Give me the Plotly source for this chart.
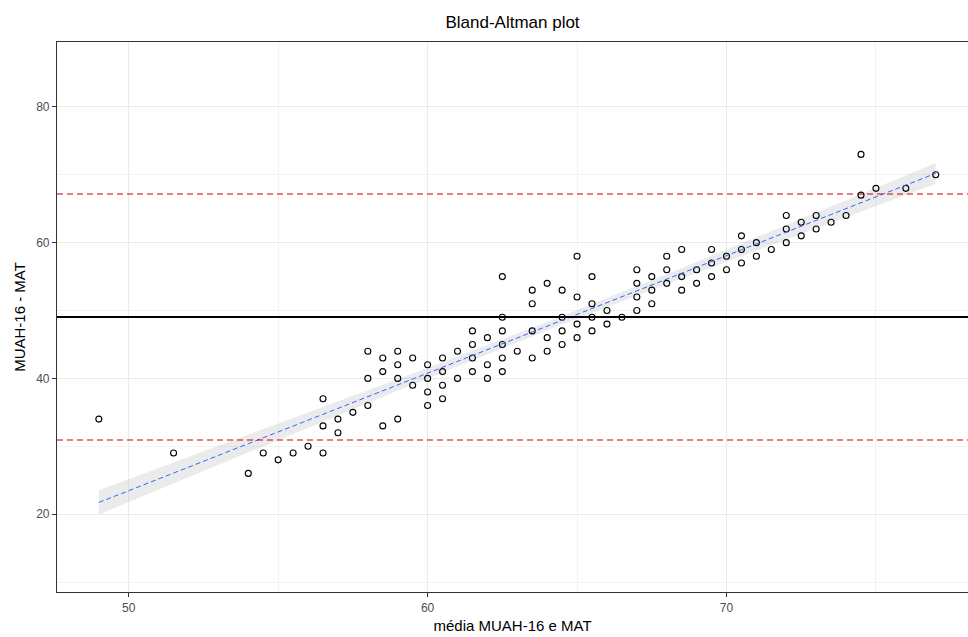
import numpy as np
import plotly.graph_objects as go

# Mean of the two methods (x) and the plotted value (y), one entry per subject
media = [
    49, 51.5, 54, 54.5, 55, 55.5, 56,
    56.5, 56.5, 56.5, 57, 57, 57.5,
    58, 58, 58, 58.5, 58.5, 58.5,
    59, 59, 59, 59, 59.5, 59.5,
    60, 60, 60, 60, 60.5, 60.5, 60.5, 60.5,
    61, 61, 61.5, 61.5, 61.5, 61.5, 62, 62, 62,
    62.5, 62.5, 62.5, 62.5, 62.5, 62.5, 63,
    63.5, 63.5, 63.5, 63.5, 64, 64, 64,
    64.5, 64.5, 64.5, 64.5, 65, 65, 65, 65,
    65.5, 65.5, 65.5, 65.5, 66, 66, 66.5,
    67, 67, 67, 67, 67.5, 67.5, 67.5, 68, 68, 68,
    68.5, 68.5, 68.5, 69, 69, 69.5, 69.5, 69.5,
    70, 70, 70.5, 70.5, 70.5, 71, 71, 71.5,
    72, 72, 72, 72.5, 72.5, 73, 73, 73.5, 74,
    74.5, 74.5, 75, 76, 77,
]
diferenca = [
    34, 29, 26, 29, 28, 29, 30,
    37, 33, 29, 34, 32, 35,
    44, 40, 36, 43, 41, 33,
    44, 42, 40, 34, 43, 39,
    42, 40, 38, 36, 43, 41, 39, 37,
    44, 40, 47, 45, 43, 41, 46, 42, 40,
    55, 49, 47, 45, 43, 41, 44,
    53, 51, 47, 43, 54, 46, 44,
    53, 49, 47, 45, 58, 52, 48, 46,
    55, 51, 49, 47, 50, 48, 49,
    56, 54, 52, 50, 55, 53, 51, 58, 56, 54,
    59, 55, 53, 56, 54, 59, 57, 55,
    58, 56, 61, 59, 57, 60, 58, 59,
    64, 62, 60, 63, 61, 64, 62, 63, 64,
    73, 67, 68, 68, 70,
]

# Bias and limits of agreement
vies = 49.05
limites = [30.93, 67.16]

x_ticks = [50, 60, 70]
y_ticks = [20, 40, 60, 80]

x = np.asarray(media, dtype=float)
y = np.asarray(diferenca, dtype=float)

# Linear fit with 95% confidence band
n = len(x)
b1, b0 = np.polyfit(x, y, 1)
resid = y - (b0 + b1 * x)
s = np.sqrt(np.sum(resid ** 2) / (n - 2))
sxx = np.sum((x - x.mean()) ** 2)
xg = np.linspace(x.min(), x.max(), 80)
yg = b0 + b1 * xg
se = s * np.sqrt(1.0 / n + (xg - x.mean()) ** 2 / sxx)
t = 1.982
lo = yg - t * se
hi = yg + t * se

fig = go.Figure()

fig.add_trace(go.Scatter(
    x=np.concatenate([xg, xg[::-1]]),
    y=np.concatenate([hi, lo[::-1]]),
    fill="toself", fillcolor="rgba(153,153,153,0.2)",
    line=dict(width=0), hoverinfo="skip", showlegend=False,
))

fig.add_trace(go.Scatter(
    x=media, y=diferenca, mode="markers",
    marker=dict(symbol="circle-open", size=6, color="black",
                line=dict(width=1.1, color="black")),
    showlegend=False,
))

fig.add_hline(y=vies, line=dict(color="black", width=2))
for v in limites:
    fig.add_hline(y=v, line=dict(color="#C80000", width=1.1, dash="6px,4px"))

fig.add_trace(go.Scatter(
    x=xg, y=yg, mode="lines",
    line=dict(color="#3366FF", width=1, dash="5px,3px"),
    showlegend=False,
))

font_family = "Liberation Sans, Arial, sans-serif"

fig.update_layout(
    width=968, height=637,
    margin=dict(l=57, r=0, t=42, b=45),
    paper_bgcolor="white", plot_bgcolor="white",
    font=dict(family=font_family, color="#000000"),
    title=dict(text="Bland-Altman plot", x=0.5, xanchor="center",
               y=0.965, yanchor="middle", xref="paper",
               font=dict(size=17, color="black", family=font_family)),
    showlegend=False,
)

fig.update_xaxes(
    range=[47.6, 78.08], tickvals=x_ticks,
    ticks="outside", ticklen=4, tickcolor="#333333", tickwidth=1,
    tickfont=dict(size=12, color="#4D4D4D"),
    showgrid=True, gridcolor="#EBEBEB", gridwidth=1,
    minor=dict(dtick=5, tick0=0, showgrid=True, gridcolor="#F2F2F2", gridwidth=0.6, ticks=""),
    showline=True, linecolor="#333333", linewidth=1.2, mirror=True,
    zeroline=False,
    title=dict(text="média MUAH-16 e MAT", font=dict(size=15, color="black"), standoff=6),
)
fig.update_yaxes(
    range=[8.53, 89.56], tickvals=y_ticks,
    ticks="outside", ticklen=4, tickcolor="#333333", tickwidth=1,
    tickfont=dict(size=12, color="#4D4D4D"),
    showgrid=True, gridcolor="#EBEBEB", gridwidth=1,
    minor=dict(dtick=10, tick0=0, showgrid=True, gridcolor="#F2F2F2", gridwidth=0.6, ticks=""),
    showline=True, linecolor="#333333", linewidth=1.2, mirror=False,
    zeroline=False,
    title=dict(text="MUAH-16 - MAT", font=dict(size=15, color="black"), standoff=6),
)

fig.write_html("out.html")
